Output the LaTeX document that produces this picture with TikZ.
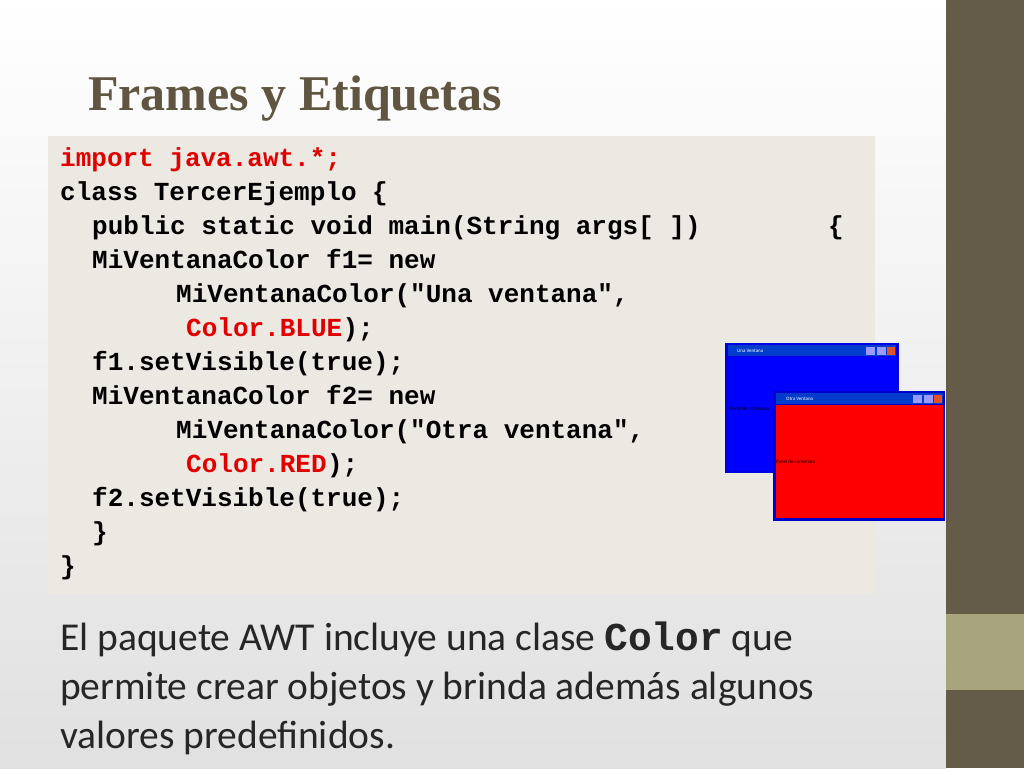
\documentclass[tikz,border=0pt]{standalone}
\usepackage{fontspec}
\setmainfont{Carlito}
\newfontfamily\codef{Liberation Mono}
\newfontfamily\titlef{Liberation Serif}
\definecolor{winred}{RGB}{255,0,0}
\definecolor{codered}{RGB}{225,0,0}
\definecolor{closebtn}{RGB}{230,80,40}
\begin{document}
\begin{tikzpicture}[x=1pt,y=-1pt,
  code/.style={anchor=base west,inner sep=0pt,font=\codef\bfseries\fontsize{26}{26}\selectfont,text=black},
  redtxt/.style={text=codered},
  body/.style={anchor=base west,inner sep=0pt,font=\fontsize{39.5}{39.5}\selectfont,text=black!85},
  tb/.style={fill=blue!70!cyan!80!black,draw=none},
  wtxt/.style={inner sep=0pt,anchor=west,font=\fontsize{5}{5}\selectfont}]
\useasboundingbox (0,0) rectangle (1024,768);
\shade[top color=white,bottom color=black!12] (0,0) rectangle (946,768);
\fill[color={rgb,255:red,100;green,92;blue,72}] (946,0) rectangle (1024,768);
\fill[color={rgb,255:red,168;green,165;blue,126}] (946,614) rectangle (1024,690);
\node[anchor=base west,inner sep=0pt,font=\titlef\bfseries\fontsize{50}{50}\selectfont,text={rgb,255:red,95;green,85;blue,64}] (title) at (88,110) {Frames y Etiquetas};
\fill[color={rgb,255:red,236;green,233;blue,226}] (48,136) rectangle (875,594);
\node[code,redtxt] (l1) at (60,166) {import java.awt.*;};
\node[code] (l2) at (60,200) {class TercerEjemplo \{};
\node[code] (l3) at (92,234) {public static void main(String args[ ])};
\node[code] (l3b) at (828,234) {\{};
\node[code] (l4) at (92,268) {MiVentanaColor f1= new};
\node[code] (l5) at (176,302) {MiVentanaColor("Una ventana",};
\node[code,redtxt] (l6) at (186,336) {Color.BLUE};
\node[code,anchor=base west] (l6b) at (l6.base east) {);};
\node[code] (l7) at (92,370) {f1.setVisible(true);};
\node[code] (l8) at (92,404) {MiVentanaColor f2= new};
\node[code] (l9) at (176,438) {MiVentanaColor("Otra ventana",};
\node[code,redtxt] (l10) at (186,472) {Color.RED};
\node[code,anchor=base west] (l10b) at (l10.base east) {);};
\node[code] (l11) at (92,506) {f2.setVisible(true);};
\node[code] (l12) at (92,540) {\}};
\node[code] (l13) at (60,574) {\}};
% blue window
\fill[blue!90!black] (725,343) rectangle (899,473);
\fill[blue] (728,357) rectangle (896,471);
\fill[tb] (728,345) rectangle (896,356);
\node[wtxt,text=white] (w1t) at (737,351) {Una Ventana};
\node[wtxt] (w1l) at (730,409) {Panel de contenido};
\foreach \xx in {866,877}{\fill[blue!40!white] (\xx,347) rectangle (\xx+9,355);}
\fill[closebtn] (887,347) rectangle (895,355);
% red window
\fill[blue!80!black] (773,391) rectangle (945,521);
\fill[winred] (776,405) rectangle (943,518);
\fill[tb] (776,393) rectangle (943,404);
\node[wtxt,text=white] (w2t) at (786,399) {Otra Ventana};
\node[wtxt] (w2l) at (776,462) {Panel de contenido};
\foreach \xx in {913,924}{\fill[blue!40!white] (\xx,395) rectangle (\xx+9,403);}
\fill[closebtn] (934,395) rectangle (942,403);
% body text
\node[body] (b1) at (60,650) {El paquete AWT incluye una clase {\codef\bfseries Color} que};
\node[body] (b2) at (60,699) {permite crear objetos y brinda además algunos};
\node[body] (b3) at (60,748) {valores predefinidos.};
\end{tikzpicture}
\end{document}
